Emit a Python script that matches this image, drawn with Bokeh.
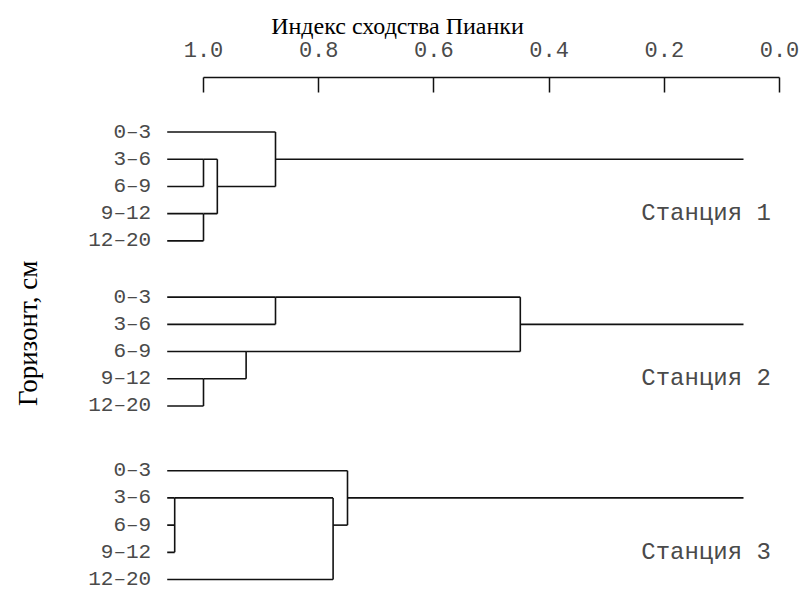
import math

from bokeh.core.properties import value
from bokeh.embed import file_html
from bokeh.models import ColumnDataSource, FixedTicker, Range1d
from bokeh.plotting import figure
from bokeh.resources import INLINE

# Soil horizons (cm) and sampling stations
horizons = ["0–3", "3–6", "6–9", "9–12", "12–20"]
stations = ["Станция 1", "Станция 2", "Станция 3"]

# Joining steps of each tree: (upper row, lower row, Pianka similarity)
merges_st1 = [(1, 2, 1.0), (3, 4, 1.0), (1, 3, 0.976), (0, 2, 0.875)]
merges_st2 = [(0, 1, 0.875), (3, 4, 1.0), (2, 3, 0.926), (0, 2, 0.45)]
merges_st3 = [(2, 3, 1.05), (1, 2, 1.05), (1, 4, 0.775), (0, 2, 0.75)]

tick_values = [1.0, 0.8, 0.6, 0.4, 0.2, 0.0]
tick_labels = ["1.0", "0.8", "0.6", "0.4", "0.2", "0.0"]

# Drawing layout
LEAF_START = 1.063      # where the horizon branches begin (left of 1.0)
ROOT_END = 0.0625       # where the root stem of each tree stops
ROW_OFFSETS = [0.0, 6.07, 12.45]   # vertical position of each station block
MONO = "Liberation Mono"
SERIF = "Liberation Serif"
LINE_COLOR = "#111111"
TEXT_GREY = "#4a4a4a"

x0s, y0s, x1s, y1s = [], [], [], []


def seg(xa, ya, xb, yb):
    x0s.append(xa)
    y0s.append(ya)
    x1s.append(xb)
    y1s.append(yb)


label_x, label_y, label_t = [], [], []
for merges, off in zip([merges_st1, merges_st2, merges_st3], ROW_OFFSETS):
    start = {r: LEAF_START for r in range(len(horizons))}
    for a, b, s in merges:
        for r in (a, b):
            seg(start.pop(r), off + r, s, off + r)
        seg(s, off + a, s, off + b)
        start[(a + b) // 2] = s
    (root_row, root_x), = start.items()
    seg(root_x, off + root_row, ROOT_END, off + root_row)
    for r, h in enumerate(horizons):
        label_x.append(LEAF_START)
        label_y.append(off + r)
        label_t.append(h)

lines = ColumnDataSource(dict(x0=x0s, y0=y0s, x1=x1s, y1=y1s))
leaf_labels = ColumnDataSource(dict(x=label_x, y=label_y, t=label_t))
station_labels = ColumnDataSource(dict(
    x=[0.24] * len(stations),
    y=[off + 3 for off in ROW_OFFSETS],
    t=stations,
))

p = figure(
    width=806, height=591,
    x_range=Range1d(779 / 576, -15 / 576),
    y_range=Range1d(16.89, -2.004),
    x_axis_location="above",
    output_backend="svg", toolbar_location=None,
    min_border_left=0, min_border_right=12,
    min_border_bottom=0, min_border_top=77,
)
p.outline_line_color = None
p.grid.visible = False
p.yaxis.visible = False
p.background_fill_color = "white"
p.border_fill_color = "white"

ax = p.xaxis[0]
ax.ticker = FixedTicker(ticks=tick_values)
ax.major_label_overrides = {v: t for v, t in zip(tick_values, tick_labels)}
ax.bounds = (0, 1)
ax.major_tick_in = 15
ax.major_tick_out = 0
ax.minor_tick_line_color = None
ax.axis_line_color = LINE_COLOR
ax.axis_line_width = 1.5
ax.major_tick_line_color = LINE_COLOR
ax.major_tick_line_width = 1.5
ax.major_label_text_font = MONO
ax.major_label_text_font_size = "22px"
ax.major_label_text_color = TEXT_GREY
ax.major_label_standoff = 21
ax.axis_label = "Индекс сходства Пианки"
ax.axis_label_text_font = SERIF
ax.axis_label_text_font_size = "24px"
ax.axis_label_text_font_style = "normal"
ax.axis_label_text_color = "black"
ax.axis_label_standoff = 0

p.segment(x0="x0", y0="y0", x1="x1", y1="y1", source=lines,
          line_color=LINE_COLOR, line_width=1.6)

p.text(x="x", y="y", text="t", source=leaf_labels, x_offset=-16,
       text_align="right", text_baseline="middle",
       text_font=value(MONO), text_font_size="21px", text_color=TEXT_GREY)

p.text(x="x", y="y", text="t", source=station_labels,
       text_align="left", text_baseline="middle",
       text_font=value(MONO), text_font_size="24px", text_color=TEXT_GREY)

p.text(x=[1.304], y=[7.4], text=["Горизонт, см"], angle=math.pi / 2,
       text_align="center", text_baseline="middle",
       text_font=value(SERIF), text_font_size="27px", text_color="black")

open("out.html", "w").write(file_html(p, INLINE))
